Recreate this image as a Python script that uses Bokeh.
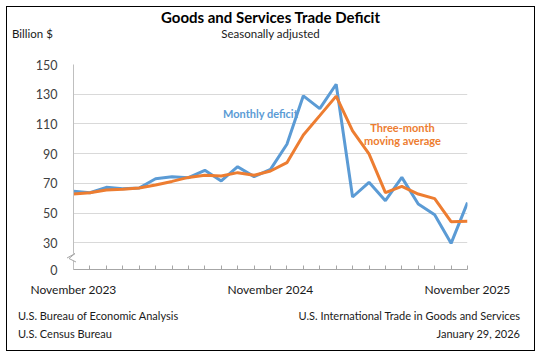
from bokeh.plotting import figure
from bokeh.models import Range1d, FixedTicker, Div, Label
from bokeh.layouts import column
from bokeh.embed import file_html
from bokeh.resources import INLINE

# ---- data (billion $, seasonally adjusted), Nov 2023 .. Nov 2025 ----
month_index = list(range(25))
monthly_deficit = [64.6, 63.7, 67.3, 66.4, 66.9, 73.1, 74.5, 73.8, 78.8, 71.6, 81.2, 74.5,
                   79.4, 96.3, 128.9, 120.3, 136.7, 60.8, 70.7, 58.3, 74.0, 56.1, 48.9, 29.6, 57.0]
moving_average = [62.8, 63.7, 65.5, 66.0, 66.9, 68.9, 71.3, 74.0, 75.4, 74.9, 77.2, 75.4,
                  78.3, 83.9, 102.6, 115.6, 128.7, 105.3, 89.8, 63.7, 68.0, 62.8, 59.7, 44.2, 44.4]
x_tick_labels = {0: "November 2023", 12: "November 2024", 24: "November 2025"}
y_ticks = [12, 30, 50, 70, 90, 110, 130, 150]
y_tick_labels = {12: "0"}

title_text = "Goods and Services Trade Deficit"
subtitle_text = "Seasonally adjusted"
unit_text = "Billion $"
source_lines = ["U.S. Bureau of Economic Analysis", "U.S. Census Bureau"]
release_lines = ["U.S. International Trade in Goods and Services", "January 29, 2026"]

BLUE = "#5B9BD5"
ORANGE = "#ED7D31"
FONT = "Lato"
W = 527

# ---- header ----
header_html = f"""
<div style="position:relative;width:{W}px;height:43px;font-family:{FONT};color:#000;">
  <div style="position:absolute;left:0;top:2px;width:{W}px;text-align:center;font-weight:bold;font-size:15px;line-height:16px;">{title_text}</div>
  <div style="position:absolute;left:0;top:21px;width:{W}px;text-align:center;font-size:11.5px;line-height:12px;color:#1a1a1a;">{subtitle_text}</div>
  <div style="position:absolute;left:5px;top:19.5px;font-size:11.5px;line-height:14px;color:#1a1a1a;">{unit_text}</div>
</div>"""
header = Div(text=header_html, width=W, height=43, styles={"margin": "0", "padding": "0"})

# ---- chart ----
p = figure(width=W, height=250, output_backend="svg", toolbar_location=None,
           x_range=Range1d(0, 24), y_range=Range1d(12, 150),
           min_border_left=66, min_border_right=67, min_border_top=14, min_border_bottom=31)
p.outline_line_color = None
p.background_fill_color = "white"
p.border_fill_color = "white"

p.xgrid.grid_line_color = None
p.ygrid.grid_line_color = "#D9D9D9"
p.ygrid.grid_line_width = 1
p.ygrid.ticker = FixedTicker(ticks=y_ticks[1:])

p.yaxis.ticker = FixedTicker(ticks=y_ticks)
p.yaxis.major_label_overrides = y_tick_labels
p.yaxis.axis_line_color = "#BFBFBF"
p.yaxis.major_tick_line_color = None
p.yaxis.minor_tick_line_color = None
p.yaxis.major_label_standoff = 10
p.yaxis.major_label_text_font = FONT
p.yaxis.major_label_text_font_size = "12.5px"
p.yaxis.major_label_text_color = "#404040"

p.xaxis.ticker = FixedTicker(ticks=month_index)
p.xaxis.major_label_overrides = {i: x_tick_labels.get(i, "") for i in month_index}
p.xaxis.axis_line_color = "#A6A6A6"
p.xaxis.major_tick_line_color = "#A6A6A6"
p.xaxis.major_tick_in = 4
p.xaxis.major_tick_out = 0
p.xaxis.minor_tick_line_color = None
p.xaxis.major_label_standoff = 12
p.xaxis.major_label_text_font = FONT
p.xaxis.major_label_text_font_size = "12px"
p.xaxis.major_label_text_color = "#1a1a1a"

p.line(month_index, monthly_deficit, line_color=BLUE, line_width=3)
p.line(month_index, moving_average, line_color=ORANGE, line_width=3)

def series_label(txt, x, y, color, align):
    p.add_layout(Label(x=x, y=y, x_units="canvas", y_units="canvas", text=txt,
                       text_font=FONT, text_font_size="11px", text_font_style="bold",
                       text_color=color, text_baseline="middle", text_align=align))

series_label("Monthly deficit", 215.5, 62.5, BLUE, "left")
series_label("Three-month", 395, 77, ORANGE, "center")
series_label("moving average", 395, 90, ORANGE, "center")

# ---- footer (with the y-axis break mark drawn as an overlay) ----
footer_html = f"""
<div style="position:relative;width:{W}px;height:50px;font-family:{FONT};font-size:11px;line-height:14px;color:#1a1a1a;">
  <svg style="position:absolute;left:0;top:-50px;overflow:visible" width="90" height="20">
    <polygon points="60,7 70,2 70,9 60,14" fill="white" stroke="none"/>
    <polyline points="60,8 68,3.5 62,8.5 69,12" fill="none" stroke="#A6A6A6" stroke-width="1"/>
  </svg>
  <div style="position:absolute;left:11px;top:9px;">{source_lines[0]}</div>
  <div style="position:absolute;left:11px;top:27px;">{source_lines[1]}</div>
  <div style="position:absolute;right:14px;top:9px;text-align:right;">{release_lines[0]}</div>
  <div style="position:absolute;right:14px;top:27px;text-align:right;">{release_lines[1]}</div>
</div>"""
footer = Div(text=footer_html, width=W, height=50, styles={"margin": "0", "padding": "0"})

layout = column(header, p, footer, spacing=0,
                styles={"margin-left": "6px", "margin-top": "6px",
                        "border": "1.5px solid #000000"})

open("out.html", "w").write(file_html(layout, INLINE))
